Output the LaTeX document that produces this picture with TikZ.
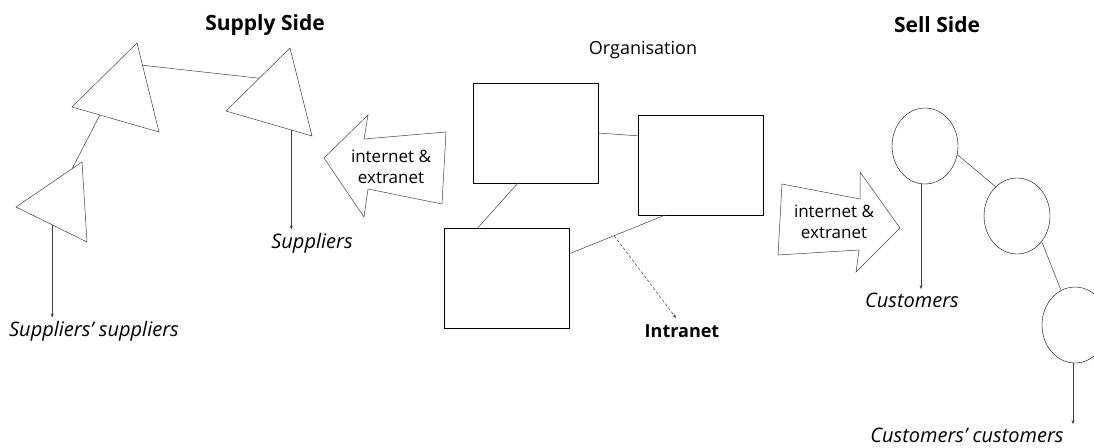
\documentclass[tikz,border=0pt]{standalone}
\usepackage{fontspec}
\setmainfont{Open Sans}
\usetikzlibrary{shapes.geometric,arrows.meta,calc}
\tikzset{
  plain/.style={font=\fontsize{18}{21}\selectfont},
  netlabel/.style={font=\fontsize{17}{21}\selectfont, align=center},
  title/.style={font=\fontsize{21}{24}\selectfont\bfseries},
  party/.style={font=\fontsize{20}{24}\selectfont\itshape},
  orgbox/.style={draw, minimum width=125pt, minimum height=100pt, inner sep=0pt},
  custnode/.style={draw, ellipse, minimum width=66pt, minimum height=76pt, inner sep=0pt},
  link/.style={draw=black!75, line width=.5pt},
  feed/.style={link, -{Stealth[length=4pt,width=3pt]}},
}
\begin{document}
\begin{tikzpicture}[x=1pt,y=-1pt]
\useasboundingbox (0,0) rectangle (1094,447);

%headings
\node[title] (supplySide)   at ( 265, 25) {Supply Side};
\node[plain] (organisation) at ( 643, 50) {Organisation};
\node[title] (sellSide)     at ( 937, 25) {Sell Side};

%supply side
\coordinate (t1top)   at (137, 43);
\coordinate (t1left)  at ( 72,107);
\coordinate (t1bot)   at (159,132);
\coordinate (t2top)   at (290, 48);
\coordinate (t2left)  at (226,111);
\coordinate (t2bot)   at (312,136);
\coordinate (t3top)   at ( 82,162);
\coordinate (t3left)  at ( 16,207);
\coordinate (t3bot)   at ( 87,242);
\draw[link] (t1top) -- (t1left) -- (t1bot) -- cycle;
\draw[link] (t2top) -- (t2left) -- (t2bot) -- cycle;
\draw[link] (t3top) -- (t3left) -- (t3bot) -- cycle;

\node[party] (suppliers)     at ( 312,243) {Suppliers};
\node[party] (suppliersSupp) at (  94,331) {Suppliers’ suppliers};

\draw[link] ($(t1top)!0.25!(t1bot)$) -- ($(t2top)!0.48!(t2left)$);
\draw[link] ($(t1left)!0.32!(t1bot)$) -- ($(t3top)!0.15!(t3left)$);
\coordinate (t2out) at ($(t2left)!0.76!(t2bot)$);
\coordinate (t3out) at ($(t3left)!0.51!(t3bot)$);
\draw[feed] (t2out) -- (t2out |- suppliers.north);
\draw[feed] (t3out) -- (t3out |- suppliersSupp.north);

%internet arrows
\draw[link] (324,158) -- (368,115) -- (364,139) -- (446,132) -- (442,204) -- (368,189) -- (364,217) -- cycle;
\node[netlabel] (netSupply) at (391,167) {internet \&\\extranet};
\draw[link] (782,184) -- (860,199) -- (860,172) -- (900,228) -- (856,272) -- (859,250) -- (778,255) -- cycle;
\node[netlabel] (netSell)   at (834,222) {internet \&\\extranet};

%organisation
\node[orgbox] (boxTop)    at (535.5,133) {};
\node[orgbox] (boxRight)  at (700.5,165) {};
\node[orgbox] (boxBottom) at (506.5,278) {};
\node[title, font=\fontsize{18}{21}\selectfont\bfseries] (intranet) at (682,331) {Intranet};

\draw[link] (boxTop.east) -- ([yshift=-21pt]boxRight.north west);
\draw[link] ([xshift=45pt]boxTop.south west) -- ([xshift=34pt]boxBottom.north west);
\draw[link] ([yshift=-26pt]boxBottom.north east) -- coordinate[pos=0.47] (tap) ([xshift=27pt]boxRight.south west);
\draw[feed, dashed, dash pattern=on 3pt off 2pt] (tap) -- ([xshift=-6pt,yshift=3pt]intranet.north);

%sell side
\node[custnode] (cust1) at ( 925,146) {};
\node[custnode] (cust2) at (1017,216) {};
\node[custnode] (cust3) at (1075,325) {};
\node[party]    (customers)     at (912,300) {Customers};
\node[party]    (customersCust) at (967,435) {Customers’ customers};

\draw[link] (cust1.-15) -- (cust2.126);
\draw[link] (cust2.-46) -- (cust3.112);
\draw[feed] (cust1.-96) -- (cust1.-96 |- customers.north);
\draw[feed] (cust3.-93) -- (cust3.-93 |- customersCust.north);
\end{tikzpicture}
\end{document}
